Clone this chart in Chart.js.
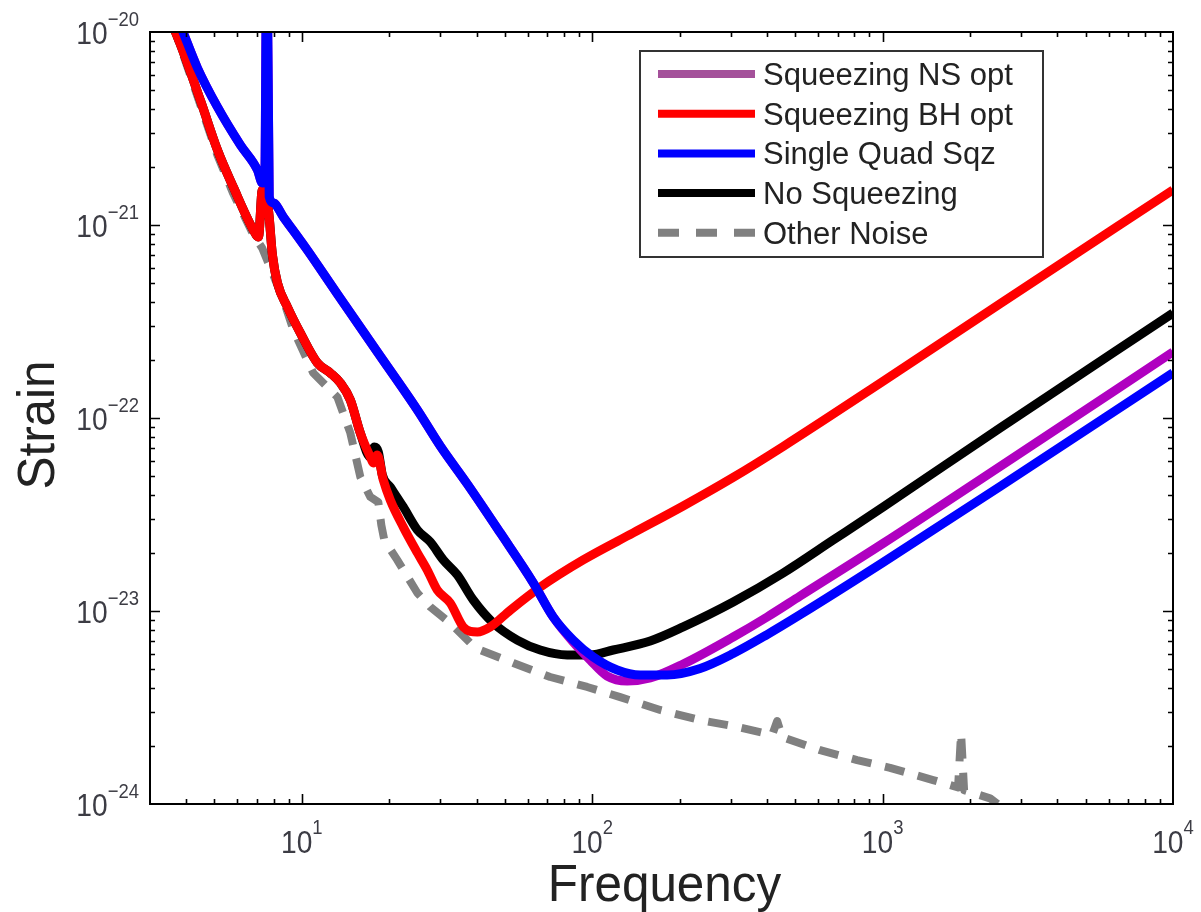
<!DOCTYPE html>
<html>
<head>
<meta charset="utf-8">
<title>Strain vs Frequency</title>
<script src="https://cdn.jsdelivr.net/npm/chart.js@4.4.1/dist/chart.umd.min.js"></script>
<style>
	html, body { margin: 0; padding: 0; background: #fff; }
	#wrap { width: 1201px; height: 912px; position: relative; }
</style>
</head>
<body>
<div id="wrap"><canvas id="mycanvas"></canvas></div>
<script>
// values (frequency in Hz, strain)
var freqNS = [3.76, 3.91, 4.37, 5.12, 6.14, 7.03, 7.31, 7.45, 7.58, 7.72, 7.98, 8.64, 10.44, 13.25, 18.19, 25.0, 29.97, 37.13, 48.24, 62.65, 73.4, 86.0, 98.4, 112.6, 132.0, 158.4, 205.7, 305.8, 400.3, 520, 1004, 2538, 10000];
var strainNS = [1.15e-20, 9.88e-21, 6.51e-21, 4.09e-21, 2.60e-21, 1.93e-21, 1.65e-21, 1.70e-21, 3e-20, 1.40e-21, 1.30e-21, 1.10e-21, 7.42e-22, 4.39e-22, 2.20e-22, 1.10e-22, 7.16e-23, 4.55e-23, 2.54e-23, 1.40e-23, 9.31e-24, 6.91e-24, 5.57e-24, 4.60e-24, 4.34e-24, 4.50e-24, 5.31e-24, 7.33e-24, 9.31e-24, 1.196e-23, 2.24e-23, 5.61e-23, 2.20e-22];

var freqBH = [3.55, 3.67, 4.47, 5.12, 5.81, 6.81, 7.09, 7.31, 7.67, 7.92, 8.24, 8.92, 9.88, 11.31, 12.54, 13.57, 14.69, 15.9, 17.21, 17.63, 18.19, 19.08, 20.16, 22.36, 25.0, 27.04, 29.27, 32.44, 35.97, 40.21, 44.57, 52.21, 66.22, 93.1, 138.4, 205.7, 305.8, 454.7, 1004, 2538, 10000];
var strainBH = [1.1e-20, 1.0e-20, 4.44e-21, 2.45e-21, 1.57e-21, 9.42e-22, 8.67e-22, 1.52e-21, 1.20e-21, 6.99e-22, 5.01e-22, 3.76e-22, 2.76e-22, 1.93e-22, 1.71e-22, 1.52e-22, 1.24e-22, 8.36e-23, 6.28e-23, 5.84e-23, 6.43e-23, 4.77e-23, 3.76e-23, 2.72e-23, 2.00e-23, 1.63e-23, 1.285e-23, 1.10e-23, 8.27e-24, 7.78e-24, 8.27e-24, 1.01e-23, 1.33e-23, 1.84e-23, 2.54e-23, 3.50e-23, 4.92e-23, 7.12e-23, 1.55e-22, 3.91e-22, 1.52e-21];

var freqSQ = [3.76, 3.91, 4.37, 5.12, 6.14, 7.03, 7.31, 7.45, 7.58, 7.72, 7.98, 8.64, 10.44, 13.25, 18.19, 25.0, 29.97, 37.13, 48.24, 62.65, 73.4, 86.0, 100.8, 121.9, 146.3, 181.2, 235.4, 305.8, 400.3, 520, 1004, 2538, 10000];
var strainSQ = [1.15e-20, 9.88e-21, 6.51e-21, 4.09e-21, 2.60e-21, 1.93e-21, 1.65e-21, 1.70e-21, 3e-20, 1.40e-21, 1.30e-21, 1.10e-21, 7.42e-22, 4.39e-22, 2.20e-22, 1.10e-22, 7.16e-23, 4.55e-23, 2.54e-23, 1.40e-23, 9.31e-24, 7.07e-24, 5.78e-24, 4.95e-24, 4.66e-24, 4.66e-24, 5.04e-24, 6.02e-24, 7.55e-24, 9.57e-24, 1.786e-23, 4.42e-23, 1.713e-22];

var freqNo = [3.55, 3.67, 4.47, 5.12, 5.81, 6.81, 7.09, 7.31, 7.67, 7.92, 8.24, 8.92, 9.88, 11.31, 12.54, 13.57, 14.69, 15.9, 17.21, 17.77, 18.34, 18.93, 20.16, 22.36, 25.0, 27.69, 30.69, 34.29, 38.94, 45.62, 55.19, 66.22, 82.0, 98.4, 118.1, 158.4, 205.7, 305.8, 454.7, 675.4, 1004, 2538, 10000];
var strainNo = [1.1e-20, 1.0e-20, 4.44e-21, 2.45e-21, 1.57e-21, 9.42e-22, 8.67e-22, 1.52e-21, 1.20e-21, 6.99e-22, 5.01e-22, 3.76e-22, 2.76e-22, 1.93e-22, 1.71e-22, 1.52e-22, 1.24e-22, 8.36e-23, 6.28e-23, 7.07e-23, 6.67e-23, 5.07e-23, 4.39e-23, 3.46e-23, 2.63e-23, 2.28e-23, 1.84e-23, 1.54e-23, 1.14e-23, 8.67e-24, 7.07e-24, 6.28e-24, 5.92e-24, 5.92e-24, 6.28e-24, 6.99e-24, 8.27e-24, 1.113e-23, 1.573e-23, 2.33e-23, 3.46e-23, 8.88e-23, 3.50e-22];

var freqOther = [3.55, 3.67, 4.47, 5.12, 5.81, 6.81, 7.3, 7.79, 8.64, 9.35, 10.95, 13.25, 14.69, 15.9, 17.21, 18.34, 18.78, 19.23, 21.3, 25.0, 27.69, 32.44, 38.02, 41.16, 53.46, 71.67, 96.1, 124.9, 171.4, 235.4, 315.6, 416.6, 433.4, 451, 609.3, 817, 1061, 1492, 1819, 1863, 1908, 2344, 2538];
var strainOther = [1.1e-20, 1.0e-20, 4.2e-21, 2.3e-21, 1.45e-21, 8.9e-22, 7.6e-22, 6.0e-22, 4.09e-22, 2.86e-22, 1.71e-22, 1.285e-22, 8.36e-23, 4.95e-23, 3.90e-23, 3.67e-23, 2.79e-23, 2.33e-23, 1.84e-23, 1.24e-23, 1.05e-23, 8.67e-24, 6.83e-24, 6.28e-24, 5.38e-24, 4.55e-24, 4.04e-24, 3.58e-24, 3.07e-24, 2.72e-24, 2.51e-24, 2.28e-24, 2.69e-24, 2.22e-24, 1.90e-24, 1.69e-24, 1.54e-24, 1.33e-24, 1.22e-24, 2.33e-24, 1.18e-24, 1.07e-24, 9.8e-25];

var seriesLabels = ['Squeezing NS opt', 'Squeezing BH opt', 'Single Quad Sqz', 'No Squeezing', 'Other Noise'];
var xTickValues = [10, 100, 1000, 10000];
var xTickExps = ['1', '2', '3', '4'];
var yTickValues = [1e-20, 1e-21, 1e-22, 1e-23, 1e-24];
var yTickExps = ['\u221220', '\u221221', '\u221222', '\u221223', '\u221224'];

var FONT = '"Liberation Sans", Arial, Helvetica, sans-serif';

function pairs(xs, ys) {
	var out = [];
	for (var i = 0; i < xs.length; i++) {
		out.push({x: xs[i], y: ys[i]});
	}
	return out;
}

function lineSet(label, fx, sy, color, order, legendColor, dash) {
	var ds = {
		label: label,
		data: pairs(fx, sy),
		borderColor: color,
		legendColor: legendColor || color,
		borderWidth: dash ? 8 : 9,
		borderDash: dash || [],
		borderCapStyle: 'butt',
		borderJoinStyle: 'round',
		pointRadius: 0,
		fill: false,
		clip: 0,
		order: order
	};
	if (dash) {
		ds.tension = 0; // keep the narrow resonance spikes sharp
	} else {
		ds.cubicInterpolationMode = 'monotone';
	}
	return ds;
}

// little helper: "10" with a raised exponent, slightly narrowed like the original font
function drawPow(ctx, exp, x, baseY, expY, align) {
	var sx = 0.88;
	ctx.font = '32px ' + FONT;
	var wb = ctx.measureText('10').width * sx;
	ctx.font = '21px ' + FONT;
	var we = ctx.measureText(exp).width * sx;
	var start = align === 'center' ? x - (wb + we) / 2 : x - (wb + we);
	ctx.save();
	ctx.translate(start, baseY);
	ctx.scale(sx, 1);
	ctx.font = '32px ' + FONT;
	ctx.fillText('10', 0, 0);
	ctx.restore();
	ctx.save();
	ctx.translate(start + wb, expY);
	ctx.scale(sx, 1);
	ctx.font = '21px ' + FONT;
	ctx.fillText(exp, 0, 0);
	ctx.restore();
}

var framePlugin = {
	id: 'frame',
	afterDatasetsDraw: function(chart) {
		var ctx = chart.ctx;
		var a = chart.chartArea;
		var xs = chart.scales.x;
		var ys = chart.scales.y;
		var i, m, v, p, len;

		ctx.save();
		ctx.strokeStyle = '#000';
		ctx.lineWidth = 2;
		ctx.strokeRect(a.left, a.top, a.right - a.left, a.bottom - a.top);

		// ticks on all four sides, pointing inwards
		ctx.lineWidth = 1.6;
		ctx.beginPath();
		for (i = 0; i <= 3; i++) {
			for (m = 1; m <= 9; m++) {
				v = m * Math.pow(10, i);
				if (v <= xs.min || v >= xs.max) continue;
				p = Math.round(xs.getPixelForValue(v)) + 0.5;
				len = m === 1 ? 10 : 5;
				ctx.moveTo(p, a.bottom); ctx.lineTo(p, a.bottom - len);
				ctx.moveTo(p, a.top); ctx.lineTo(p, a.top + len);
			}
		}
		for (i = -24; i <= -21; i++) {
			for (m = 1; m <= 9; m++) {
				v = m * Math.pow(10, i);
				if (v <= ys.min * 1.0001 || v >= ys.max * 0.9999) continue;
				p = Math.round(ys.getPixelForValue(v)) + 0.5;
				len = m === 1 ? 10 : 5;
				ctx.moveTo(a.left, p); ctx.lineTo(a.left + len, p);
				ctx.moveTo(a.right, p); ctx.lineTo(a.right - len, p);
			}
		}
		ctx.stroke();

		// tick labels
		ctx.fillStyle = '#3c3c44';
		ctx.textBaseline = 'alphabetic';
		ctx.textAlign = 'left';
		for (i = 0; i < xTickValues.length; i++) {
			p = xs.getPixelForValue(xTickValues[i]);
			drawPow(ctx, xTickExps[i], p, a.bottom + 49, a.bottom + 30, 'center');
		}
		for (i = 0; i < yTickValues.length; i++) {
			p = ys.getPixelForValue(yTickValues[i]);
			drawPow(ctx, yTickExps[i], a.left - 11, p + 12, p - 6, 'right');
		}

		// axis titles
		ctx.fillStyle = '#222';
		ctx.font = '52px ' + FONT;
		ctx.textAlign = 'center';
		ctx.save();
		ctx.translate((a.left + a.right) / 2 + 3, 901);
		ctx.scale(0.95, 1);
		ctx.fillText('Frequency', 0, 0);
		ctx.restore();
		ctx.save();
		ctx.translate(54, 425);
		ctx.rotate(-Math.PI / 2);
		ctx.scale(0.95, 1);
		ctx.fillText('Strain', 0, 0);
		ctx.restore();

		// legend box in the upper right of the plot
		var lx = a.left + 490, ly = a.top + 19, lw = 403, lh = 206;
		ctx.fillStyle = '#fff';
		ctx.fillRect(lx, ly, lw, lh);
		ctx.strokeStyle = '#333';
		ctx.lineWidth = 2;
		ctx.strokeRect(lx, ly, lw, lh);
		ctx.font = '31px ' + FONT;
		ctx.textAlign = 'left';
		chart.data.datasets.forEach(function(ds, k) {
			var ry = ly + 23 + k * 39.7;
			ctx.beginPath();
			ctx.strokeStyle = ds.legendColor;
			ctx.lineWidth = 8;
			ctx.lineCap = 'butt';
			ctx.setLineDash(ds.borderDash.length ? [21, 17] : []);
			ctx.moveTo(lx + 18, ry);
			ctx.lineTo(lx + 115, ry);
			ctx.stroke();
			ctx.setLineDash([]);
			ctx.fillStyle = '#222';
			ctx.fillText(ds.label, lx + 123, ry + 11);
		});
		ctx.restore();
	}
};

var ctx = document.getElementById('mycanvas');

var chart = new Chart(ctx, {
	type: 'line',
	data: {
		datasets: [
			lineSet(seriesLabels[0], freqNS, strainNS, '#b000c0', 3, '#a4519a'),
			lineSet(seriesLabels[1], freqBH, strainBH, '#ff0000', 2),
			lineSet(seriesLabels[2], freqSQ, strainSQ, '#0000ff', 1),
			lineSet(seriesLabels[3], freqNo, strainNo, '#000000', 4),
			lineSet(seriesLabels[4], freqOther, strainOther, '#808080', 5, null, [20, 14])
		]
	},
	options: {
		responsive: true,
		maintainAspectRatio: false,
		animation: false,
		layout: { padding: { left: 150, right: 28, top: 32, bottom: 108 } },
		plugins: {
			legend: { display: false },
			tooltip: { enabled: false }
		},
		scales: {
			x: { type: 'logarithmic', min: 3, max: 10000, display: false },
			y: { type: 'logarithmic', min: 1e-24, max: 1e-20, display: false }
		}
	},
	plugins: [framePlugin]
});
</script>
</body>
</html>
